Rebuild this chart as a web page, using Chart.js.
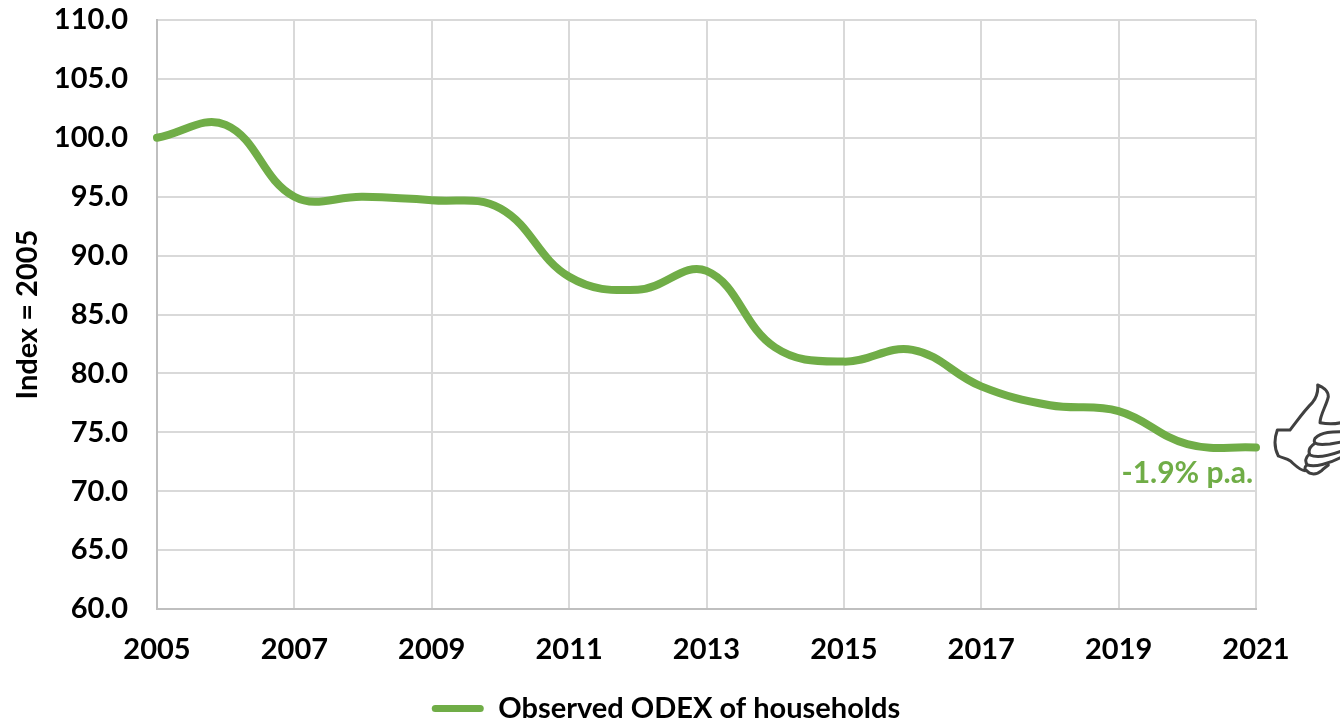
<!DOCTYPE html>
<html><head><meta charset="utf-8">
<style>html,body{margin:0;padding:0;background:#fff;overflow:hidden}#w{position:relative;width:1340px;height:722px}canvas{display:block}
svg{position:absolute;left:1265px;top:380px}</style>
<script src="https://cdn.jsdelivr.net/npm/chart.js@4"></script></head><body>
<div id="w"><canvas id="c" width="1340" height="722"></canvas>
<svg width="75" height="100" viewBox="0 0 225 300" fill="none" stroke="#404040" stroke-width="9" stroke-linejoin="round" stroke-linecap="round">
<path d="M228 128 C205 133 185 132 165 128 C165 105 185 75 190 50 C190 32 172 20 158 15 C160 35 155 52 142 68 C115 95 95 125 75 150 L37 150 C28 175 28 205 40 228 C55 235 65 235 75 242 C90 255 105 272 120 272"/>
<path d="M228 155 C205 155 170 155 150 175 C140 195 165 195 195 192 L228 186"/>
<path d="M150 190 C135 200 128 212 135 225 C155 235 190 228 228 214"/>
<path d="M133 222 C122 232 118 245 128 255 C150 262 190 252 228 232"/>
<path d="M125 255 C118 262 118 268 125 272 C135 285 155 285 170 272 C175 265 182 262 190 255"/>
</svg></div>
<script>
const years=[2005,2006,2007,2008,2009,2010,2011,2012,2013,2014,2015,2016,2017,2018,2019,2020,2021];
const odex=[100,101.1,95,95,94.7,94,88.2,87.1,88.7,82.2,81,82,78.9,77.3,76.8,74,73.7];
const seriesName='Observed ODEX of households';
const noteText='-1.9% p.a.';
const axisTitle='Index = 2005';
const font='Lato, Carlito, "Open Sans", sans-serif';
const green='#70ad47';
const note={id:'note',
afterLayout(ch){ch.legend.left+=38;ch.legend.right+=38;},
afterDatasetsDraw(ch){const {ctx,scales:{x,y}}=ch;ctx.save();ctx.font='bold 30px '+font;ctx.fillStyle=green;ctx.textAlign='right';ctx.textBaseline='middle';
ctx.fillText(noteText,x.getPixelForValue(years[years.length-1])-3,y.getPixelForValue(odex[odex.length-1])+26);ctx.restore();}};
new Chart(document.getElementById('c'),{type:'line',plugins:[note],
data:{datasets:[{label:seriesName,data:years.map((v,i)=>({x:v,y:odex[i]})),borderColor:green,backgroundColor:green,borderWidth:8,tension:0.4,pointRadius:0,borderCapStyle:'round',clip:false}]},
options:{responsive:false,animation:false,
layout:{padding:{left:0,top:20,right:84,bottom:-11}},
plugins:{tooltip:{enabled:false},legend:{position:'bottom',labels:{color:'#000',font:{family:font,size:29,weight:'bold'},boxWidth:52,boxHeight:7,useBorderRadius:true,borderRadius:3.5,padding:0,
generateLabels(ch){return [{text:seriesName,fillStyle:green,strokeStyle:green,lineWidth:0,borderRadius:3.5,datasetIndex:0}];}}}},
scales:{
x:{type:'linear',min:2005,max:2021,afterFit(s){s.height=85;},ticks:{stepSize:2,autoSkip:false,maxRotation:0,color:'#000',padding:23,font:{family:font,size:29,weight:'bold'},callback:v=>String(v)},grid:{color:'#d9d9d9',lineWidth:2,drawTicks:false},border:{color:'#bfbfbf',width:2}},
y:{min:60,max:110,afterFit(s){s.width=157;},ticks:{stepSize:5,color:'#000',padding:0,font:{family:font,size:29,weight:'bold'},callback:v=>v.toFixed(1)},grid:{color:'#d9d9d9',lineWidth:2,drawTicks:true,tickLength:29,tickColor:'rgba(0,0,0,0)'},border:{color:'#bfbfbf',width:2},
title:{display:true,text:axisTitle,color:'#000',font:{family:font,size:29,weight:'bold'},padding:{top:10,bottom:0}}}
}}});
</script></body></html>
